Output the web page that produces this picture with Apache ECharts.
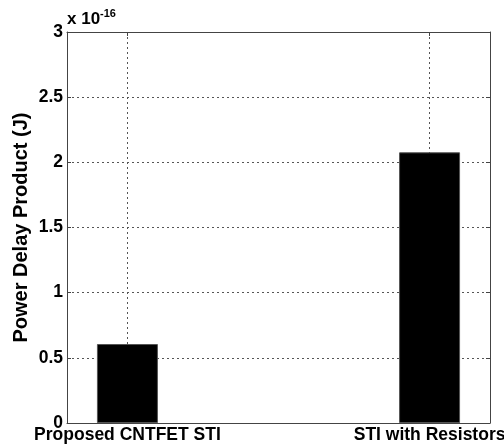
<!DOCTYPE html>
<html><head><meta charset="utf-8">
<script src="https://cdn.jsdelivr.net/npm/echarts@6/dist/echarts.min.js"></script>
<style>html,body{margin:0;padding:0;background:#fff}#c{width:504px;height:448px}</style>
</head><body><div id="c"></div>
<script>
const categories = ['Proposed CNTFET STI', 'STI with Resistors'];
const positions = [1, 2];
const values = [0.606, 2.077];
const yTicks = [0, 0.5, 1, 1.5, 2, 2.5, 3];

const chart = echarts.init(document.getElementById('c'));
const font = 'Liberation Sans, Arial, sans-serif';
const axisColor = '#444';
const gridDash = { color: '#555', type: [2, 3], width: 1 };
chart.setOption({
  animation: false,
  grid: { left: 67, right: 14, top: 32, bottom: 25, show: false, containLabel: false, outerBoundsMode: 'none' },
  xAxis: [{
    type: 'value', min: 0.8, max: 2.2, position: 'bottom',
    axisLine: { show: true, onZero: false, lineStyle: { color: axisColor } },
    axisTick: { show: true, inside: true, length: 4, customValues: positions, lineStyle: { color: axisColor } },
    axisLabel: { customValues: positions, formatter: v => categories[positions.indexOf(v)] || '',
      color: '#000', fontFamily: font, fontWeight: 'bold', fontSize: 17.5, margin: 3 },
    splitLine: { show: true, lineStyle: gridDash }
  }, {
    type: 'value', min: 0.8, max: 2.2, position: 'top',
    axisLine: { show: true, onZero: false, lineStyle: { color: axisColor } },
    axisTick: { show: true, inside: true, length: 4, customValues: positions, lineStyle: { color: axisColor } },
    axisLabel: { show: false }, splitLine: { show: false }
  }],
  yAxis: [{
    type: 'value', min: 0, max: 3, interval: 0.5, position: 'left',
    name: 'Power Delay Product (J)', nameLocation: 'middle', nameGap: 36, nameMoveOverlap: false,
    nameTextStyle: { color: '#000', fontFamily: font, fontWeight: 'bold', fontSize: 20 },
    axisLine: { show: true, lineStyle: { color: axisColor } },
    axisTick: { show: true, inside: true, length: 4, lineStyle: { color: axisColor } },
    axisLabel: { color: '#000', fontFamily: font, fontWeight: 'bold', fontSize: 17.5, margin: 4,
      formatter: v => String(v) },
    splitLine: { show: true, lineStyle: gridDash }
  }, {
    type: 'value', min: 0, max: 3, interval: 0.5, position: 'right',
    axisLine: { show: true, lineStyle: { color: axisColor } },
    axisTick: { show: true, inside: true, length: 4, lineStyle: { color: axisColor } },
    axisLabel: { show: false }, splitLine: { show: false }
  }],
  graphic: [{
    type: 'text', left: 67, top: 8,
    style: {
      text: '{a|x 10}{b|-16}',
      rich: {
        a: { fontFamily: font, fontWeight: 'bold', fontSize: 17, fill: '#000', verticalAlign: 'bottom' },
        b: { fontFamily: font, fontWeight: 'bold', fontSize: 11, fill: '#000', verticalAlign: 'top', padding: [0, 0, 9, 0] }
      }
    }
  }],
  series: [{
    type: 'bar', xAxisIndex: 0, yAxisIndex: 0, barWidth: 61,
    data: positions.map((p, i) => [p, values[i]]),
    itemStyle: { color: '#000', borderColor: '#555', borderWidth: 1 }
  }]
});
</script></body></html>
